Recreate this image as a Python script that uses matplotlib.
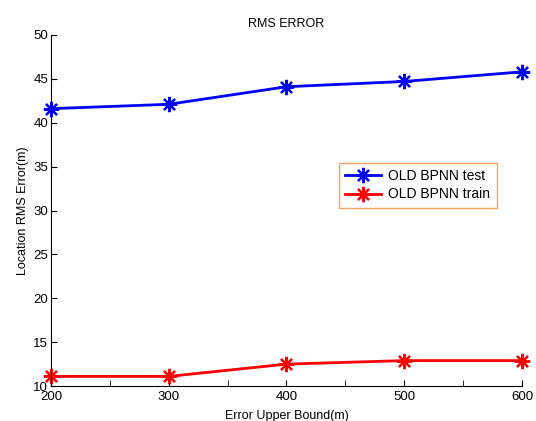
import matplotlib
matplotlib.use("Agg")
import matplotlib.pyplot as plt
from matplotlib.ticker import MultipleLocator

x = [200, 300, 400, 500, 600]
test = [41.6, 42.1, 44.1, 44.7, 45.8]
train = [11.1, 11.1, 12.5, 12.9, 12.9]
labels = ["OLD BPNN test", "OLD BPNN train"]

plt.rcParams['font.family'] = ['Liberation Sans', 'DejaVu Sans']
fig = plt.figure(figsize=(5.36, 4.21), dpi=100)
ax = fig.add_axes([0.095, 0.083, 0.879, 0.834])
mk = (8, 2, 0)
ax.plot(x, test, color='#0000ff', lw=2, marker=mk, ms=11, mew=1.6, label=labels[0], clip_on=False)
ax.plot(x, train, color='#ff0000', lw=2, marker=mk, ms=11, mew=1.6, label=labels[1], clip_on=False)
ax.set_xlim(200, 600)
ax.set_ylim(10, 50)
ax.set_xticks(x)
ax.xaxis.set_minor_locator(MultipleLocator(50))
ax.set_yticks(range(10, 51, 5))
ax.tick_params(direction='in', length=4, labelsize=9.5, pad=2)
ax.tick_params(axis='x', pad=3.5)
ax.tick_params(which='minor', direction='in', length=4)
for s in ['top', 'right']:
    ax.spines[s].set_visible(False)
ax.set_title("RMS ERROR", fontsize=9, pad=6)
ax.set_xlabel("Error Upper Bound(m)", fontsize=9, labelpad=5)
ax.set_ylabel("Location RMS Error(m)", fontsize=9, labelpad=3)
leg = ax.legend(loc='upper left', bbox_to_anchor=(0.597, 0.655), fontsize=10,
                fancybox=False, framealpha=1, handlelength=2.6, borderpad=0.45,
                labelspacing=0.3, handletextpad=0.5)
leg.get_frame().set_edgecolor('#f4a460')
leg.get_frame().set_linewidth(1.0)
fig.savefig("out.png", dpi=100)
